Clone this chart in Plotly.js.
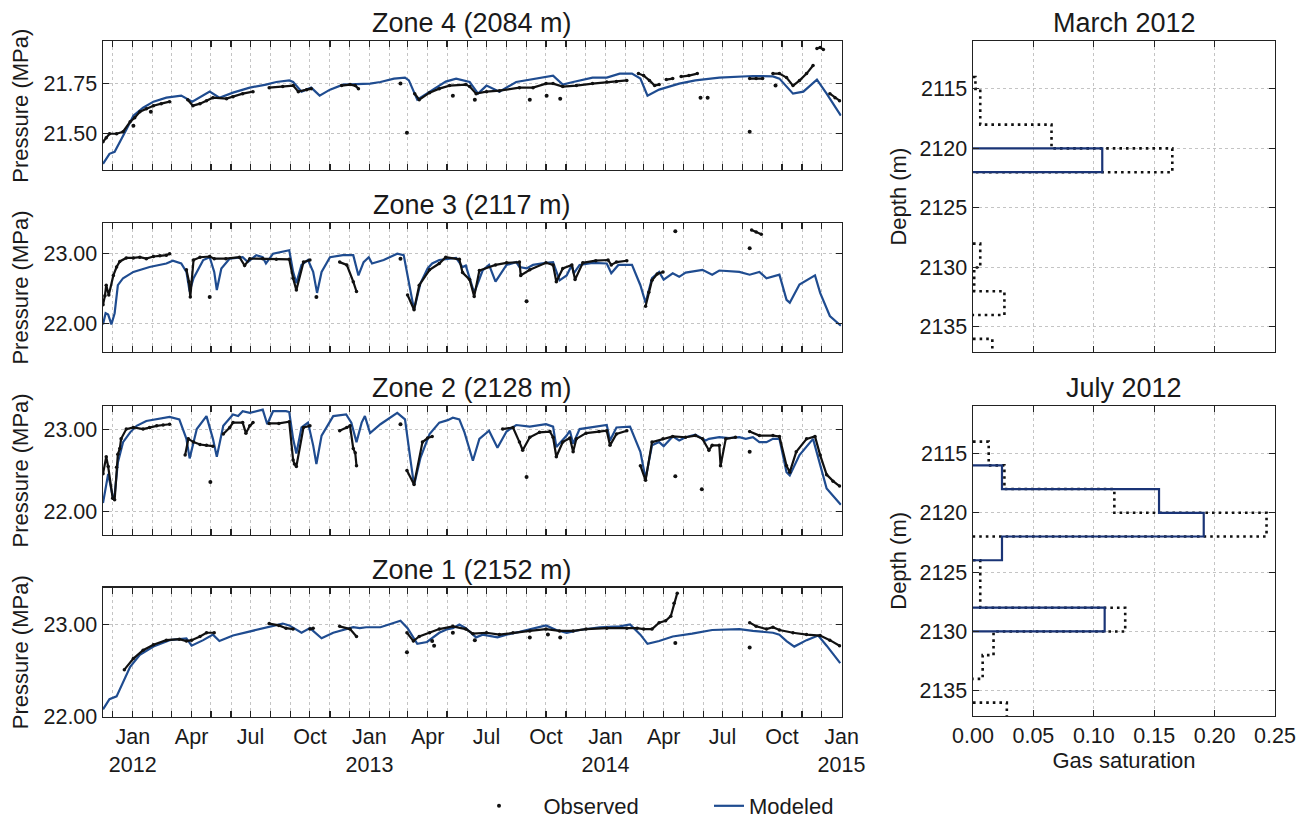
<!DOCTYPE html>
<html><head><meta charset="utf-8">
<script src="https://cdn.plot.ly/plotly-3.0.1.min.js"></script>
<style>html,body{margin:0;padding:0;background:#fff}#chart{width:1306px;height:827px}</style>
</head><body><div id="chart"></div>
<script>
// ---------------- Zone 4 (2084 m) ----------------
const z4ModDate = ['2011-11-16','2011-11-26','2011-12-04','2011-12-11','2011-12-22','2012-01-02','2012-01-17','2012-02-02','2012-02-22','2012-03-16','2012-04-02','2012-04-29','2012-05-14','2012-06-04','2012-06-30','2012-07-25','2012-08-10','2012-08-30','2012-09-05','2012-09-18','2012-10-03','2012-10-16','2012-11-01','2012-11-21','2012-12-17','2013-01-02','2013-01-18','2013-02-08','2013-02-25','2013-03-03','2013-03-16','2013-04-04','2013-04-29','2013-05-15','2013-06-05','2013-06-18','2013-07-01','2013-07-21','2013-08-16','2013-10-12','2013-10-27','2013-11-12','2013-12-12','2014-01-03','2014-01-23','2014-02-11','2014-02-24','2014-03-07','2014-03-25','2014-04-25','2014-05-20','2014-06-26','2014-08-17','2014-09-17','2014-09-27','2014-10-18','2014-11-03','2014-11-24','2014-12-09','2014-12-31'];
const z4ModP = [21.35,21.40,21.41,21.45,21.52,21.59,21.63,21.66,21.68,21.69,21.66,21.71,21.68,21.705,21.73,21.745,21.758,21.766,21.758,21.71,21.73,21.69,21.72,21.745,21.75,21.75,21.758,21.775,21.78,21.766,21.67,21.71,21.76,21.775,21.758,21.70,21.74,21.71,21.758,21.79,21.745,21.758,21.78,21.78,21.80,21.80,21.775,21.69,21.72,21.75,21.766,21.78,21.788,21.786,21.775,21.70,21.71,21.77,21.70,21.59];
const z4ObsDate = ['2011-11-16','2011-11-21','2011-11-26','2011-12-07','2011-12-17','2011-12-28','2012-01-04','2012-01-12','2012-01-22','2012-02-02','2012-02-14','2012-02-27',null,'2012-03-26','2012-04-03','2012-04-14','2012-04-24','2012-05-04','2012-05-25','2012-06-04','2012-06-19','2012-07-05',null,'2012-07-30','2012-08-20','2012-09-05','2012-09-13','2012-09-26','2012-10-03',null,'2012-11-19','2012-12-02','2012-12-10','2012-12-15',null,'2013-03-12','2013-03-19','2013-04-04','2013-04-19','2013-05-05','2013-05-30','2013-06-05','2013-06-15','2013-07-01','2013-07-21','2013-08-21','2013-09-11','2013-10-01','2013-10-12','2013-10-27','2013-11-17','2013-12-12','2014-01-03','2014-01-18','2014-02-03',null,'2014-02-21','2014-03-01','2014-03-10','2014-03-18','2014-03-25',null,'2014-04-05','2014-04-15',null,'2014-04-28','2014-05-10','2014-05-23',null,'2014-08-12','2014-08-22','2014-09-01',null,'2014-09-17','2014-09-27','2014-10-08','2014-10-18','2014-10-28','2014-11-08','2014-11-18',null,'2014-11-24','2014-11-29','2014-12-04',null,'2014-12-14','2014-12-22','2014-12-29'];
const z4ObsP = [21.46,21.48,21.50,21.50,21.51,21.56,21.58,21.61,21.625,21.64,21.65,21.66,null,21.67,21.64,21.65,21.665,21.68,21.675,21.685,21.70,21.71,null,21.73,21.735,21.74,21.71,21.72,21.725,null,21.74,21.745,21.74,21.725,null,21.70,21.67,21.705,21.725,21.74,21.745,21.735,21.70,21.71,21.715,21.73,21.73,21.75,21.75,21.735,21.74,21.75,21.758,21.76,21.766,null,21.80,21.79,21.766,21.74,21.745,null,21.77,21.775,null,21.785,21.79,21.80,null,21.775,21.775,21.775,null,21.80,21.80,21.78,21.74,21.765,21.80,21.84,null,21.925,21.93,21.92,null,21.70,21.68,21.665];
const z4OutDate = ['2012-01-02','2012-01-29','2013-02-18','2013-02-28','2013-05-10','2013-06-13','2013-09-06','2013-10-02','2013-10-23','2014-05-28','2014-06-08','2014-08-12','2014-09-21'];
const z4OutP = [21.54,21.61,21.75,21.505,21.69,21.67,21.67,21.69,21.675,21.68,21.68,21.51,21.74];

// ---------------- Zone 3 (2117 m) ----------------
const z3ModDate = ['2011-11-16','2011-11-20','2011-11-24','2011-11-29','2011-12-04','2011-12-09','2011-12-17','2012-01-02','2012-01-27','2012-02-22','2012-03-03','2012-03-16','2012-03-24','2012-03-29','2012-04-04','2012-04-19','2012-04-29','2012-05-06','2012-05-10','2012-05-17','2012-05-30','2012-06-19','2012-06-27','2012-07-10','2012-07-20','2012-07-25','2012-08-05','2012-08-30','2012-09-05','2012-09-10','2012-09-18','2012-09-28','2012-10-06','2012-10-12','2012-10-19','2012-11-01','2012-11-21','2012-12-07','2012-12-15','2012-12-23','2012-12-31','2013-01-05','2013-01-23','2013-02-13','2013-02-23','2013-03-03','2013-03-11','2013-03-21','2013-04-01','2013-04-08','2013-04-19','2013-05-15','2013-05-25','2013-05-30','2013-06-12','2013-06-25','2013-07-05','2013-07-15','2013-08-01','2013-08-16','2013-08-21','2013-09-01','2013-09-11','2013-10-01','2013-10-12','2013-10-22','2013-11-02','2013-11-10','2013-11-13','2013-11-22','2013-12-12','2014-01-03','2014-01-10','2014-01-21','2014-02-11','2014-02-24','2014-03-04','2014-03-14','2014-03-25','2014-04-01','2014-04-15','2014-04-25','2014-05-05','2014-05-31','2014-06-15','2014-06-26','2014-07-27','2014-08-12','2014-08-27','2014-09-07','2014-09-17','2014-09-27','2014-10-08','2014-10-13','2014-10-28','2014-11-21','2014-11-29','2014-12-14','2014-12-31'];
const z3ModP = [21.99,22.15,22.13,21.99,22.15,22.55,22.65,22.74,22.81,22.86,22.90,22.86,22.74,22.46,22.65,22.91,22.95,22.74,22.48,22.79,22.93,22.95,22.88,22.98,22.95,22.86,23.00,23.05,22.74,22.58,22.84,22.91,22.74,22.44,22.74,22.95,22.98,22.98,22.69,22.88,22.95,22.86,22.91,23.00,22.98,22.58,22.20,22.58,22.79,22.86,22.91,22.94,22.81,22.83,22.44,22.76,22.84,22.60,22.84,22.88,22.81,22.79,22.84,22.87,22.88,22.62,22.69,22.84,22.72,22.84,22.87,22.86,22.72,22.84,22.84,22.55,22.30,22.65,22.74,22.63,22.72,22.67,22.73,22.77,22.70,22.76,22.74,22.70,22.74,22.65,22.67,22.70,22.34,22.30,22.56,22.69,22.44,22.11,21.97];
const z3ObsDate = ['2011-11-16','2011-11-19','2011-11-21','2011-11-25','2011-12-02','2011-12-07','2011-12-12','2011-12-22','2012-01-02','2012-01-12','2012-01-22','2012-02-02','2012-02-12','2012-02-22','2012-02-27',null,'2012-03-24','2012-03-28','2012-03-30','2012-04-04','2012-04-14','2012-04-29','2012-05-06','2012-05-24','2012-06-14','2012-06-22','2012-06-30','2012-07-20','2012-08-10','2012-08-30','2012-09-05','2012-09-10','2012-09-21','2012-10-01',null,'2012-11-16','2012-11-27','2012-12-07','2012-12-12',null,'2013-03-01','2013-03-11','2013-03-19','2013-04-04','2013-04-19','2013-04-29','2013-05-20','2013-05-25','2013-06-05','2013-06-12','2013-06-20','2013-07-15','2013-08-01','2013-08-21','2013-08-23','2013-09-06','2013-10-01','2013-10-12','2013-10-17','2013-10-27','2013-11-10','2013-11-15','2013-11-27','2013-12-17','2014-01-05','2014-01-10','2014-01-18','2014-02-03',null,'2014-03-04','2014-03-09','2014-03-14','2014-03-22','2014-03-31',null,'2014-08-15','2014-08-22','2014-08-30'];
const z3ObsP = [22.27,22.40,22.55,22.41,22.69,22.81,22.89,22.94,22.94,22.95,22.93,22.96,22.97,22.98,23.00,null,22.77,22.60,22.38,22.91,22.95,22.96,22.93,22.93,22.95,22.83,22.93,22.93,22.92,22.92,22.65,22.48,22.88,22.91,null,22.88,22.84,22.60,22.46,null,22.41,22.20,22.55,22.77,22.86,22.95,22.92,22.73,22.63,22.39,22.76,22.84,22.87,22.88,22.69,22.77,22.87,22.84,22.60,22.79,22.84,22.63,22.87,22.90,22.91,22.84,22.88,22.90,null,22.25,22.45,22.62,22.71,22.74,null,23.34,23.31,23.28];
const z3OutDate = ['2012-04-29','2012-10-11','2013-02-18','2013-09-01','2014-04-19','2014-08-12'];
const z3OutP = [22.38,22.38,22.93,22.32,23.32,23.08];

// ---------------- Zone 2 (2128 m) ----------------
const z2ModDate = ['2011-11-16','2011-11-24','2011-12-02','2011-12-04','2011-12-09','2011-12-17','2011-12-28','2012-01-07','2012-01-22','2012-02-07','2012-02-27','2012-03-13','2012-03-24','2012-03-29','2012-04-09','2012-04-24','2012-05-04','2012-05-10','2012-05-20','2012-06-04','2012-06-12','2012-06-19','2012-06-30','2012-07-20','2012-07-27','2012-08-05','2012-08-25','2012-08-30','2012-09-05','2012-09-10','2012-09-18','2012-09-28','2012-10-06','2012-10-11','2012-10-19','2012-11-06','2012-11-26','2012-12-04','2012-12-12','2012-12-20','2012-12-25','2013-01-02','2013-01-18','2013-02-13','2013-02-25','2013-03-06','2013-03-11','2013-03-21','2013-04-04','2013-04-19','2013-05-02','2013-05-10','2013-05-20','2013-05-28','2013-06-10','2013-06-20','2013-07-05','2013-07-18','2013-08-01','2013-08-16','2013-09-06','2013-10-01','2013-10-12','2013-10-17','2013-11-02','2013-11-07','2013-11-12','2013-11-22','2013-12-12','2014-01-03','2014-01-08','2014-01-18','2014-02-08','2014-02-24','2014-03-04','2014-03-14','2014-03-25','2014-04-01','2014-04-15','2014-04-25','2014-05-05','2014-05-20','2014-06-05','2014-06-10','2014-06-26','2014-07-11','2014-07-27','2014-08-06','2014-08-17','2014-08-27','2014-09-07','2014-09-17','2014-09-27','2014-10-08','2014-10-13','2014-10-28','2014-11-18','2014-11-29','2014-12-09','2014-12-31'];
const z2ModP = [22.10,22.46,22.14,22.20,22.60,22.85,22.97,23.05,23.11,23.13,23.16,23.13,22.89,22.65,23.01,23.17,22.89,22.67,23.05,23.19,23.17,23.23,23.21,23.25,23.07,23.23,23.23,23.22,22.89,22.71,23.03,23.09,22.81,22.58,22.93,23.17,23.19,23.09,22.85,23.09,23.17,22.96,23.07,23.21,23.13,22.60,22.32,22.66,22.95,23.09,23.12,23.15,23.13,22.97,22.62,22.89,22.99,22.78,22.98,23.06,23.04,23.07,23.04,22.79,22.93,22.99,22.83,23.01,23.03,23.06,22.87,23.03,23.04,22.73,22.40,22.81,22.85,22.80,22.92,22.87,22.91,22.94,22.87,22.89,22.91,22.90,22.91,22.89,22.91,22.85,22.85,22.89,22.89,22.48,22.44,22.69,22.89,22.56,22.28,22.08];
const z2ObsDate = ['2011-11-16','2011-11-21','2011-11-24','2011-12-01','2011-12-04','2011-12-07','2011-12-09','2011-12-12','2011-12-14','2011-12-22','2012-01-02','2012-01-17','2012-01-27','2012-02-07','2012-02-17','2012-02-27',null,'2012-03-22','2012-03-27','2012-04-04','2012-04-14','2012-04-24','2012-05-04',null,'2012-05-20','2012-05-30','2012-06-04','2012-06-19','2012-06-24','2012-06-30','2012-07-05',null,'2012-07-30','2012-08-14','2012-08-30','2012-09-05','2012-09-07','2012-09-10','2012-09-21','2012-10-01',null,'2012-11-16','2012-11-27','2012-12-02','2012-12-07','2012-12-10','2012-12-12',null,'2013-02-28','2013-03-11','2013-03-24','2013-04-01','2013-04-08',null,'2013-07-26','2013-08-11','2013-08-21','2013-08-26','2013-09-06','2013-09-21','2013-10-07','2013-10-12','2013-10-17','2013-10-27','2013-11-07','2013-11-12','2013-11-17','2013-12-02','2013-12-22','2014-01-03','2014-01-08','2014-01-18','2014-02-03',null,'2014-02-24','2014-03-04','2014-03-14','2014-03-31','2014-04-15','2014-05-05','2014-05-20','2014-05-31','2014-06-10','2014-06-15','2014-06-26','2014-06-28','2014-07-06','2014-07-21',null,'2014-08-12','2014-08-27','2014-09-17','2014-09-27','2014-10-08','2014-10-13','2014-10-23','2014-11-08','2014-11-21','2014-11-29','2014-12-09','2014-12-19','2014-12-29'];
const z2ObsP = [22.46,22.67,22.55,22.16,22.14,22.54,22.70,22.77,22.89,23.01,23.03,23.01,23.03,23.05,23.06,23.07,null,22.69,22.89,22.85,22.82,22.81,22.80,null,22.95,23.03,23.09,23.09,22.96,23.05,23.09,null,23.08,23.08,23.10,22.63,22.58,22.55,23.03,23.05,null,22.99,23.03,23.05,22.77,22.72,22.56,null,22.50,22.33,22.85,22.90,22.92,null,23.01,23.03,22.85,22.75,22.91,22.97,22.98,22.91,22.67,22.85,22.90,22.73,22.89,22.96,22.98,22.99,22.81,22.95,22.99,null,22.56,22.38,22.85,22.89,22.92,22.91,22.93,22.89,22.75,22.81,22.81,22.56,22.89,22.91,null,22.98,22.93,22.93,22.92,22.56,22.48,22.73,22.89,22.92,22.69,22.45,22.37,22.31];
const z2OutDate = ['2012-04-30','2013-02-18','2013-09-01','2014-04-19','2014-05-30','2014-08-12'];
const z2OutP = [22.36,23.07,22.42,22.43,22.27,22.73];

// ---------------- Zone 1 (2152 m) ----------------
const z1ModDate = ['2011-11-16','2011-11-26','2011-12-07','2011-12-17','2011-12-28','2012-01-12','2012-02-02','2012-02-27','2012-03-24','2012-04-01','2012-04-19','2012-05-04','2012-05-14','2012-06-04','2012-07-05','2012-08-05','2012-08-20','2012-08-30','2012-09-18','2012-10-01','2012-10-19','2012-11-06','2012-12-07','2012-12-17','2012-12-27','2013-01-18','2013-02-18','2013-03-01','2013-03-16','2013-03-31','2013-04-19','2013-05-02','2013-05-10','2013-05-20','2013-05-30','2013-06-15','2013-06-25','2013-07-18','2013-08-01','2013-08-21','2013-10-01','2013-10-17','2013-11-02','2013-11-22','2013-12-23','2014-01-23','2014-02-08','2014-02-24','2014-03-07','2014-03-25','2014-04-15','2014-05-15','2014-06-15','2014-07-27','2014-08-17','2014-09-17','2014-09-27','2014-10-08','2014-10-20','2014-11-08','2014-11-26','2014-12-09','2014-12-30'];
const z1ModP = [22.08,22.19,22.22,22.38,22.54,22.67,22.76,22.83,22.85,22.77,22.83,22.89,22.82,22.88,22.93,22.98,23.01,22.99,22.91,22.96,22.85,22.91,22.97,22.96,22.97,22.97,23.04,22.96,22.79,22.81,22.91,22.95,22.96,23.00,22.96,22.86,22.89,22.86,22.89,22.92,22.99,22.94,22.91,22.94,22.97,22.98,23.00,22.89,22.79,22.82,22.87,22.90,22.94,22.95,22.93,22.91,22.89,22.82,22.76,22.83,22.88,22.77,22.58];
const z1ObsDate = ['2011-12-19','2012-01-02','2012-01-17','2012-02-02','2012-02-22','2012-03-13','2012-03-24','2012-04-01','2012-04-14','2012-04-24','2012-05-06',null,'2012-07-30','2012-08-14','2012-08-25','2012-09-05',null,'2012-10-01','2012-10-06',null,'2012-11-16','2012-12-02','2012-12-12',null,'2013-02-28','2013-03-10','2013-03-19','2013-04-04','2013-04-19','2013-05-10','2013-05-30','2013-06-10','2013-07-01','2013-07-21','2013-08-11','2013-09-06','2013-10-01','2013-10-22','2013-11-12','2013-12-02','2014-01-03','2014-02-03','2014-02-19','2014-03-01','2014-03-14','2014-03-25','2014-04-04','2014-04-12','2014-04-17','2014-04-22',null,'2014-08-12','2014-08-22','2014-09-07','2014-09-17','2014-09-27','2014-10-18','2014-11-08','2014-11-29','2014-12-14','2014-12-29'];
const z1ObsP = [22.51,22.63,22.72,22.78,22.83,22.84,22.82,22.83,22.87,22.91,22.91,null,23.01,22.99,22.96,22.95,null,22.95,22.96,null,22.98,22.95,22.87,null,22.91,22.82,22.87,22.91,22.95,22.98,22.95,22.90,22.91,22.89,22.91,22.93,22.95,22.93,22.93,22.95,22.96,22.96,22.96,22.95,22.95,23.02,23.04,23.09,23.23,23.34,null,23.02,22.98,22.95,22.97,22.94,22.91,22.89,22.88,22.83,22.77];
const z1OutDate = ['2013-02-28','2013-04-08','2013-04-11','2013-05-10','2013-06-13','2013-09-06','2013-10-04','2013-10-23','2014-04-19','2014-08-12'];
const z1OutP = [22.70,22.82,22.77,22.91,22.83,22.86,22.89,22.86,22.80,22.75];

// ---------------- Gas saturation profiles ----------------
const marchObsTop = [2114, 2115, 2118, 2120, 2122, 2128, 2130, 2132, 2134, 2136];
const marchObsBot = [2115, 2118, 2120, 2122, 2128, 2130, 2132, 2134, 2136, 2138];
const marchObsSat = [0.002, 0.006, 0.065, 0.165, 0, 0.006, 0.001, 0.026, 0, 0.016];
const marchModTop = [2111, 2120, 2122];
const marchModBot = [2120, 2122, 2138];
const marchModSat = [0, 0.107, 0];
const julyObsTop = [2114, 2116, 2118, 2120, 2122, 2124, 2128, 2130, 2132, 2134, 2136];
const julyObsBot = [2116, 2118, 2120, 2122, 2124, 2128, 2130, 2132, 2134, 2136, 2138];
const julyObsSat = [0.013, 0.026, 0.117, 0.243, 0, 0.006, 0.126, 0.017, 0.008, 0, 0.028];
const julyModTop = [2111, 2116, 2118, 2120, 2122, 2124, 2128, 2130];
const julyModBot = [2116, 2118, 2120, 2122, 2124, 2128, 2130, 2138];
const julyModSat = [0, 0.024, 0.154, 0.191, 0.024, 0, 0.109, 0];

const zoneTitles = ['Zone 4 (2084 m)', 'Zone 3 (2117 m)', 'Zone 2 (2128 m)', 'Zone 1 (2152 m)'];
const profileTitles = ['March 2012', 'July 2012'];
const monthNames = ['Jan','Feb','Mar','Apr','May','Jun','Jul','Aug','Sep','Oct','Nov','Dec'];
const satTicks = [0, 0.05, 0.10, 0.15, 0.20, 0.25];
const depthTicks = [2115, 2120, 2125, 2130, 2135];

// ---------------- styling ----------------
const FONT = 'Liberation Sans, Arial, sans-serif';
const TXT = '#1a1a1a';
const BLUE = '#1f4c90';
const NAVY = '#1a3476';
const W = 1306, H = 827;
const px = v => v / W;
const py = v => 1 - v / H;

const leftDom = [px(103), px(841.5)];
const rightDom = [px(973), px(1275)];
const rowPx = [[42,173],[227,358],[413,544],[598,729]];
const rowDom = rowPx.map(r => [py(r[1]), py(r[0])]);
const rightRowPx = [[42,358],[413,728]];
const rightRowDom = rightRowPx.map(r => [py(r[1]), py(r[0])]);

// monthly ticks, labelled every quarter
const tickVals = [], tickText = [];
for (let y = 2011, m = 11; y < 2015 || (y === 2015 && m === 0); ) {
  const s = y + '-' + String(m + 1).padStart(2, '0') + '-01';
  tickVals.push(s);
  if (m % 3 === 0) tickText.push(m === 0 ? monthNames[m] + '<br>' + y : monthNames[m]);
  else tickText.push('');
  m++; if (m > 11) { m = 0; y++; }
}

function stepPath(tops, bots, sats) {
  const x = [], y = [];
  let prevZero = true;
  for (let i = 0; i < tops.length; i++) {
    if (sats[i] === 0) {
      if (!prevZero) { x.push(0); y.push(tops[i]); x.push(null); y.push(null); }
      prevZero = true; continue;
    }
    if (prevZero) { x.push(0); y.push(tops[i]); }
    x.push(sats[i]); y.push(tops[i]);
    x.push(sats[i]); y.push(bots[i]);
    prevZero = false;
  }
  return {x, y};
}

const axisCommon = {
  showline: true, linecolor: '#222', linewidth: 1.4, mirror: 'allticks',
  ticks: 'inside', ticklen: 6, tickwidth: 1.1, tickcolor: '#222',
  showgrid: true, gridcolor: '#c4c4c4', griddash: 'dot', gridwidth: 1,
  zeroline: false, tickfont: {family: FONT, size: 21.5, color: TXT}
};

const zones = [
  {md: z4ModDate, mp: z4ModP, od: z4ObsDate, op: z4ObsP, xd: z4OutDate, xp: z4OutP, range: [21.319, 21.961], ticks: [21.50, 21.75]},
  {md: z3ModDate, mp: z3ModP, od: z3ObsDate, op: z3ObsP, xd: z3OutDate, xp: z3OutP, range: [21.596, 23.437], ticks: [22, 23]},
  {md: z2ModDate, mp: z2ModP, od: z2ObsDate, op: z2ObsP, xd: z2OutDate, xp: z2OutP, range: [21.71, 23.294], ticks: [22, 23]},
  {md: z1ModDate, mp: z1ModP, od: z1ObsDate, op: z1ObsP, xd: z1OutDate, xp: z1OutP, range: [22.0, 23.397], ticks: [22, 23]}
];

const traces = [];
const NB = '\u00a0';
const layout = {
  width: W, height: H, margin: {l: 0, r: 0, t: 0, b: 0},
  paper_bgcolor: '#fff', plot_bgcolor: '#fff',
  font: {family: FONT, color: TXT},
  showlegend: true,
  legend: {orientation: 'h', x: px(479), xanchor: 'left', y: py(820), yanchor: 'middle',
           font: {family: FONT, size: 22, color: TXT}, entrywidth: 185, entrywidthmode: 'pixels',
           bgcolor: 'rgba(0,0,0,0)'},
  annotations: []
};

zones.forEach((z, i) => {
  const n = i + 1;
  const xa = 'x' + (n === 1 ? '' : n), ya = 'y' + (n === 1 ? '' : n);
  traces.push({type: 'scatter', mode: 'lines', x: z.md, y: z.mp, xaxis: xa, yaxis: ya,
    line: {color: BLUE, width: 2.2}, name: 'Modeled', showlegend: i === 0, legendrank: 2, hoverinfo: 'skip'});
  traces.push({type: 'scatter', mode: 'lines+markers', x: z.od, y: z.op, xaxis: xa, yaxis: ya,
    line: {color: '#111', width: 2.2}, marker: {color: '#111', size: 3.5}, connectgaps: false,
    name: 'Observed', showlegend: false, hoverinfo: 'skip'});
  traces.push({type: 'scatter', mode: 'markers', x: z.xd, y: z.xp, xaxis: xa, yaxis: ya,
    marker: {color: '#111', size: 4}, name: NB + NB + NB + NB + 'Observed', showlegend: i === 0, legendrank: 1, hoverinfo: 'skip'});

  layout['xaxis' + (n === 1 ? '' : n)] = Object.assign({}, axisCommon, {
    domain: leftDom, anchor: ya, type: 'date', range: ['2011-11-16', '2015-01-01'],
    tickmode: 'array', tickvals: tickVals, ticktext: tickText, showticklabels: n === 4
  });
  layout['yaxis' + (n === 1 ? '' : n)] = Object.assign({}, axisCommon, {
    domain: rowDom[i], anchor: xa, range: z.range, tickmode: 'array', tickvals: z.ticks,
    tickformat: '.2f', title: {text: 'Pressure (MPa)', font: {family: FONT, size: 22, color: TXT}, standoff: 8}
  });
  layout.annotations.push({text: zoneTitles[i], xref: 'paper', yref: 'paper',
    x: (leftDom[0] + leftDom[1]) / 2, y: rowDom[i][1], xanchor: 'center', yanchor: 'bottom', yshift: 1,
    showarrow: false, font: {family: FONT, size: 27, color: TXT}});
});

const profiles = [
  {ot: marchObsTop, ob: marchObsBot, os: marchObsSat, mt: marchModTop, mb: marchModBot, ms: marchModSat},
  {ot: julyObsTop, ob: julyObsBot, os: julyObsSat, mt: julyModTop, mb: julyModBot, ms: julyModSat}
];
profiles.forEach((p, i) => {
  const n = 5 + i;
  const xa = 'x' + n, ya = 'y' + n;
  const o = stepPath(p.ot, p.ob, p.os);
  const m = stepPath(p.mt, p.mb, p.ms);
  traces.push({type: 'scatter', mode: 'lines', x: o.x, y: o.y, xaxis: xa, yaxis: ya, connectgaps: false,
    line: {color: '#111', width: 2.6, dash: '2.6px,4px'}, showlegend: false, hoverinfo: 'skip'});
  traces.push({type: 'scatter', mode: 'lines', x: m.x, y: m.y, xaxis: xa, yaxis: ya, connectgaps: false,
    line: {color: NAVY, width: 2.2}, showlegend: false, hoverinfo: 'skip'});
  layout['xaxis' + n] = Object.assign({}, axisCommon, {
    domain: rightDom, anchor: ya, range: [0, 0.25], tickmode: 'array', tickvals: satTicks,
    tickformat: '.2f', showticklabels: i === 1,
    title: i === 1 ? {text: 'Gas saturation', font: {family: FONT, size: 22, color: TXT}, standoff: 4} : {text: ''}
  });
  layout['yaxis' + n] = Object.assign({}, axisCommon, {
    domain: rightRowDom[i], anchor: xa, range: [2137.1, 2111.0], tickmode: 'array', tickvals: depthTicks,
    title: {text: 'Depth (m)', font: {family: FONT, size: 22, color: TXT}, standoff: 6}
  });
  layout.annotations.push({text: profileTitles[i], xref: 'paper', yref: 'paper',
    x: (rightDom[0] + rightDom[1]) / 2, y: rightRowDom[i][1], xanchor: 'center', yanchor: 'bottom', yshift: 1,
    showarrow: false, font: {family: FONT, size: 27, color: TXT}});
});

Plotly.newPlot('chart', traces, layout, {displayModeBar: false, staticPlot: true});
</script></body></html>
